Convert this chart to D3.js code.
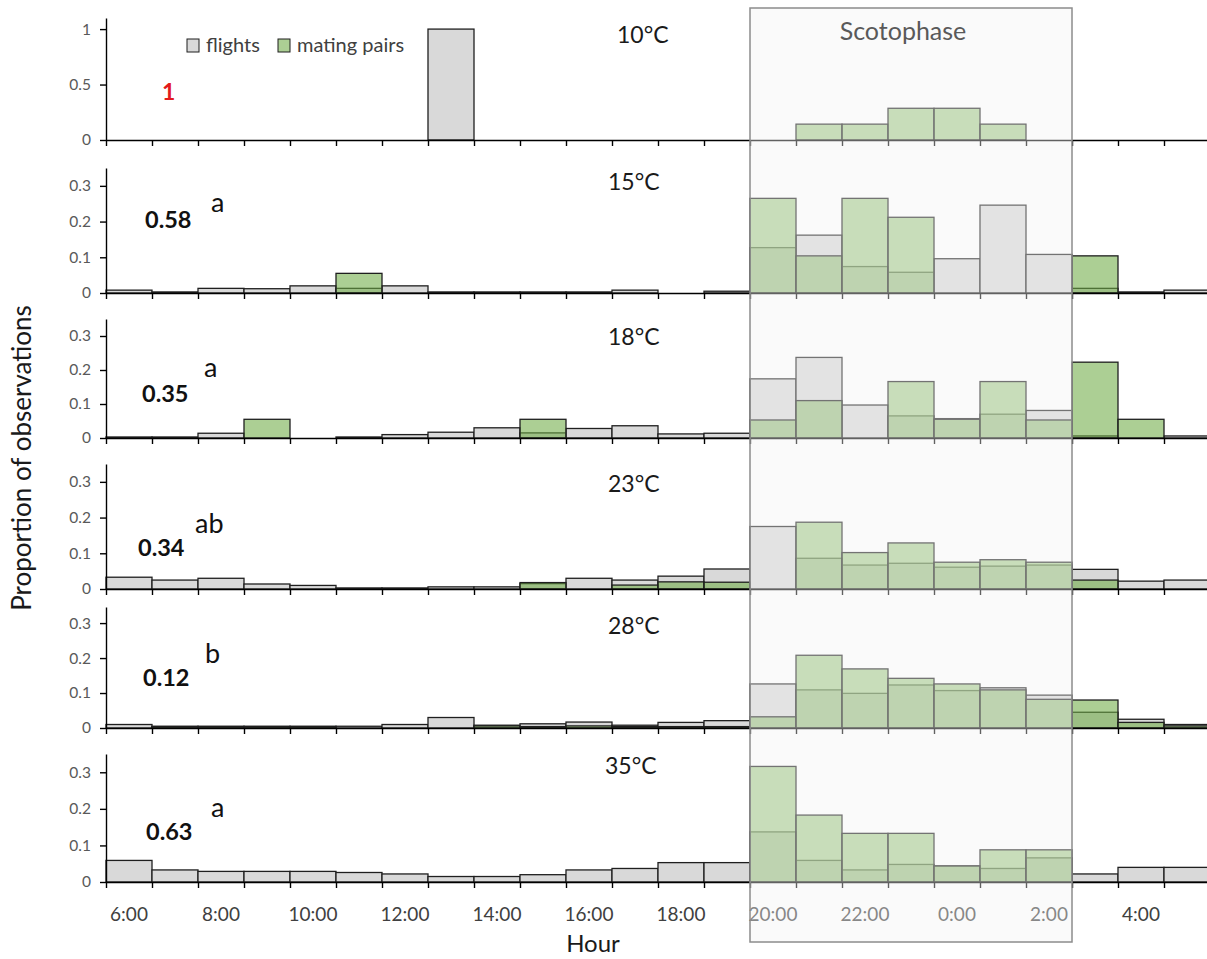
<!DOCTYPE html>
<html>
<head>
<meta charset="utf-8">
<script src="https://cdn.jsdelivr.net/npm/d3@7"></script>
<style>
  body { margin: 0; background: #fff; }
  svg { display: block; font-family: Lato, "Open Sans", sans-serif; }
</style>
</head>
<body>
<script>
// hours of the day, 6:00 through 5:00 next morning
var hours = ["6:00","7:00","8:00","9:00","10:00","11:00","12:00","13:00","14:00","15:00","16:00","17:00",
             "18:00","19:00","20:00","21:00","22:00","23:00","0:00","1:00","2:00","3:00","4:00","5:00"];
var tickLabels = ["6:00","8:00","10:00","12:00","14:00","16:00","18:00","20:00","22:00","0:00","2:00","4:00"];
var scotophase = ["20:00", "3:00"];   // dark period: from start of 20:00 to start of 3:00

var temps   = ["10°C","15°C","18°C","23°C","28°C","35°C"];
var pValues = ["1","0.58","0.35","0.34","0.12","0.63"];
var letters = ["","a","a","ab","b","a"];

// proportion of observations per hour
var flights10 = [0,0,0,0,0,0,0,1,0,0,0,0,0,0,0,0,0,0,0,0,0,0,0,0];
var mating10  = [0,0,0,0,0,0,0,0,0,0,0,0,0,0,0,0.143,0.143,0.286,0.286,0.143,0,0,0,0];

var flights15 = [0.008,0.003,0.013,0.012,0.02,0.013,0.02,0.003,0.003,0.003,0.003,0.008,0,0.005,
                 0.127,0.162,0.074,0.058,0.096,0.246,0.108,0.013,0.003,0.008];
var mating15  = [0,0,0,0,0,0.055,0,0,0,0,0,0,0,0,0.265,0.104,0.265,0.212,0,0,0,0.104,0,0];

var flights18 = [0.003,0.003,0.014,0,0,0.003,0.01,0.017,0.03,0.015,0.028,0.036,0.012,0.014,
                 0.174,0.237,0.097,0.065,0.057,0.07,0.081,0.006,0,0.006];
var mating18  = [0,0,0,0.055,0,0,0,0,0,0.055,0,0,0,0,0.053,0.11,0,0.166,0.055,0.166,0.053,0.223,0.055,0];

var flights23 = [0.033,0.025,0.03,0.014,0.01,0.003,0.003,0.006,0.006,0.015,0.03,0.025,0.036,0.056,
                 0.175,0.086,0.067,0.072,0.061,0.064,0.067,0.055,0.022,0.025];
var mating23  = [0,0,0,0,0,0,0,0,0,0.018,0,0.011,0.02,0.019,0,0.187,0.102,0.129,0.075,0.082,0.075,0.025,0,0];

var flights28 = [0.01,0.005,0.005,0.005,0.005,0.005,0.01,0.03,0.008,0.012,0.017,0.008,0.016,0.021,
                 0.126,0.109,0.099,0.123,0.107,0.115,0.094,0.045,0.025,0.01];
var mating28  = [0,0.004,0.004,0.004,0.004,0,0,0,0.006,0.004,0.006,0.004,0.004,0.004,
                 0.032,0.208,0.169,0.142,0.126,0.109,0.082,0.08,0.016,0.006];

var flights35 = [0.059,0.033,0.029,0.029,0.029,0.026,0.022,0.015,0.015,0.02,0.033,0.037,0.053,0.053,
                 0.137,0.059,0.033,0.048,0.044,0.037,0.066,0.022,0.04,0.04];
var mating35  = [0,0,0,0,0,0,0,0,0,0,0,0,0,0,0.316,0.183,0.133,0.133,0.044,0.088,0.088,0,0,0];

var flights = [flights10, flights15, flights18, flights23, flights28, flights35];
var mating  = [mating10, mating15, mating18, mating23, mating28, mating35];

// ---- layout ----
var W = 1207, H = 959;
var x0 = 106, x1 = 1210;
var panels = [
  {top: 18,  zero: 140, max: 1.1,  ticks: [0, 0.5, 1],        tempX: 617, tempY: 43,  pX: 162, pY: 100, lX: 0,   lY: 0},
  {top: 168, zero: 293, max: 0.35, ticks: [0, 0.1, 0.2, 0.3], tempX: 608, tempY: 190, pX: 145, pY: 228, lX: 211, lY: 212},
  {top: 319, zero: 438, max: 0.35, ticks: [0, 0.1, 0.2, 0.3], tempX: 608, tempY: 345, pX: 142, pY: 402, lX: 204, lY: 377},
  {top: 464, zero: 589, max: 0.35, ticks: [0, 0.1, 0.2, 0.3], tempX: 608, tempY: 492, pX: 138, pY: 556, lX: 195, lY: 533},
  {top: 607, zero: 728, max: 0.346,ticks: [0, 0.1, 0.2, 0.3], tempX: 608, tempY: 634, pX: 143, pY: 686, lX: 205, lY: 663},
  {top: 754, zero: 882, max: 0.35, ticks: [0, 0.1, 0.2, 0.3], tempX: 605, tempY: 774, pX: 146, pY: 840, lX: 211, lY: 817}
];

var greenFill = "#70ad47", greenOpacity = 0.58, grayFill = "#d9d9d9", barStroke = "#1f1f1f";

var svg = d3.select("body").append("svg")
    .attr("width", W)
    .attr("height", H);

var x = d3.scaleBand().domain(hours).range([x0, x1]).padding(0);
var xEdge = d3.scaleLinear().domain([0, hours.length]).range([x0, x1]);

panels.forEach(function(p, i) {
  var y = d3.scaleLinear().domain([0, p.max]).range([p.zero, p.top]);
  var g = svg.append("g");

  // flights underneath
  g.selectAll(".fl")
      .data(flights[i])
    .enter().append("rect")
      .attr("x", function(d, j) { return x(hours[j]); })
      .attr("width", x.bandwidth())
      .attr("y", function(d) { return y(d); })
      .attr("height", function(d) { return y(0) - y(d); })
      .attr("fill", grayFill)
      .attr("stroke", barStroke)
      .attr("stroke-width", 1.3);

  // mating pairs on top, see-through
  g.selectAll(".mp")
      .data(mating[i])
    .enter().append("rect")
      .attr("x", function(d, j) { return x(hours[j]); })
      .attr("width", x.bandwidth())
      .attr("y", function(d) { return y(d); })
      .attr("height", function(d) { return y(0) - y(d); })
      .attr("fill", greenFill)
      .attr("fill-opacity", greenOpacity)
      .attr("stroke", barStroke)
      .attr("stroke-width", 1.3);

  // y axis
  var ya = g.append("g")
      .attr("transform", "translate(" + x0 + ",0)")
      .call(d3.axisLeft(y).tickValues(p.ticks).tickSize(6).tickSizeOuter(0).tickPadding(9)
            .tickFormat(function(d) { return String(d); }));
  ya.selectAll("path, line").attr("stroke", "#000").attr("stroke-width", 1.4);
  ya.selectAll("text").attr("fill", "#595959").style("font-size", "15.5px").style("font-family", "Lato");

  // x axis line with hour ticks
  var xa = g.append("g")
      .attr("transform", "translate(0," + p.zero + ")")
      .call(d3.axisBottom(xEdge).tickValues(d3.range(0, hours.length + 1)).tickSize(6)
            .tickSizeOuter(0).tickFormat(""));
  xa.selectAll("path, line").attr("stroke", "#000").attr("stroke-width", 1.4);

  if (i === panels.length - 1) {
    var xl = g.append("g")
        .attr("transform", "translate(0," + p.zero + ")")
        .call(d3.axisBottom(x).tickValues(tickLabels).tickSize(0).tickPadding(26));
    xl.select(".domain").remove();
    xl.selectAll("text").attr("fill", "#404040").style("font-size", "19px").style("font-family", "Lato");
  }

  g.append("text")
      .attr("x", p.tempX).attr("y", p.tempY)
      .style("font-size", "23px").attr("fill", "#1a1a1a")
      .text(temps[i]);

  g.append("text")
      .attr("x", p.pX).attr("y", p.pY)
      .style("font-size", i === 0 ? "23px" : "23.5px").style("font-weight", "bold")
      .attr("fill", i === 0 ? "#e31a1c" : "#111")
      .text(pValues[i]);

  if (letters[i]) {
    g.append("text")
        .attr("x", p.lX).attr("y", p.lY)
        .style("font-size", "27px").attr("fill", "#111")
        .text(letters[i]);
  }
});

// scotophase box laid over the bars
var sx0 = x(scotophase[0]), sx1 = x(scotophase[1]);
svg.append("rect")
    .attr("x", sx0).attr("y", 8)
    .attr("width", sx1 - sx0).attr("height", 934)
    .attr("fill", "#f2f2f2").attr("fill-opacity", 0.4)
    .attr("stroke", "#8c8c8c").attr("stroke-width", 1.5);
svg.append("text")
    .attr("x", (sx0 + sx1) / 2 - 8).attr("y", 40)
    .attr("text-anchor", "middle")
    .style("font-size", "25px").attr("fill", "#595959")
    .text("Scotophase");

// legend
var legend = svg.append("g").attr("transform", "translate(187,39)");
legend.append("rect").attr("width", 12).attr("height", 13)
    .attr("fill", grayFill).attr("stroke", barStroke);
legend.append("text").attr("x", 19).attr("y", 13).style("font-size", "20px").attr("fill", "#404040").text("flights");
legend.append("rect").attr("x", 91).attr("width", 12).attr("height", 13)
    .attr("fill", greenFill).attr("fill-opacity", greenOpacity).attr("stroke", barStroke);
legend.append("text").attr("x", 110).attr("y", 13).style("font-size", "20px").attr("fill", "#404040").text("mating pairs");

// axis titles
svg.append("text")
    .attr("transform", "translate(31,458) rotate(-90)")
    .attr("text-anchor", "middle")
    .style("font-size", "26px").attr("fill", "#1a1a1a")
    .text("Proportion of observations");
svg.append("text")
    .attr("x", 593).attr("y", 952)
    .attr("text-anchor", "middle")
    .style("font-size", "24px").attr("fill", "#1a1a1a")
    .text("Hour");
</script>
</body>
</html>
